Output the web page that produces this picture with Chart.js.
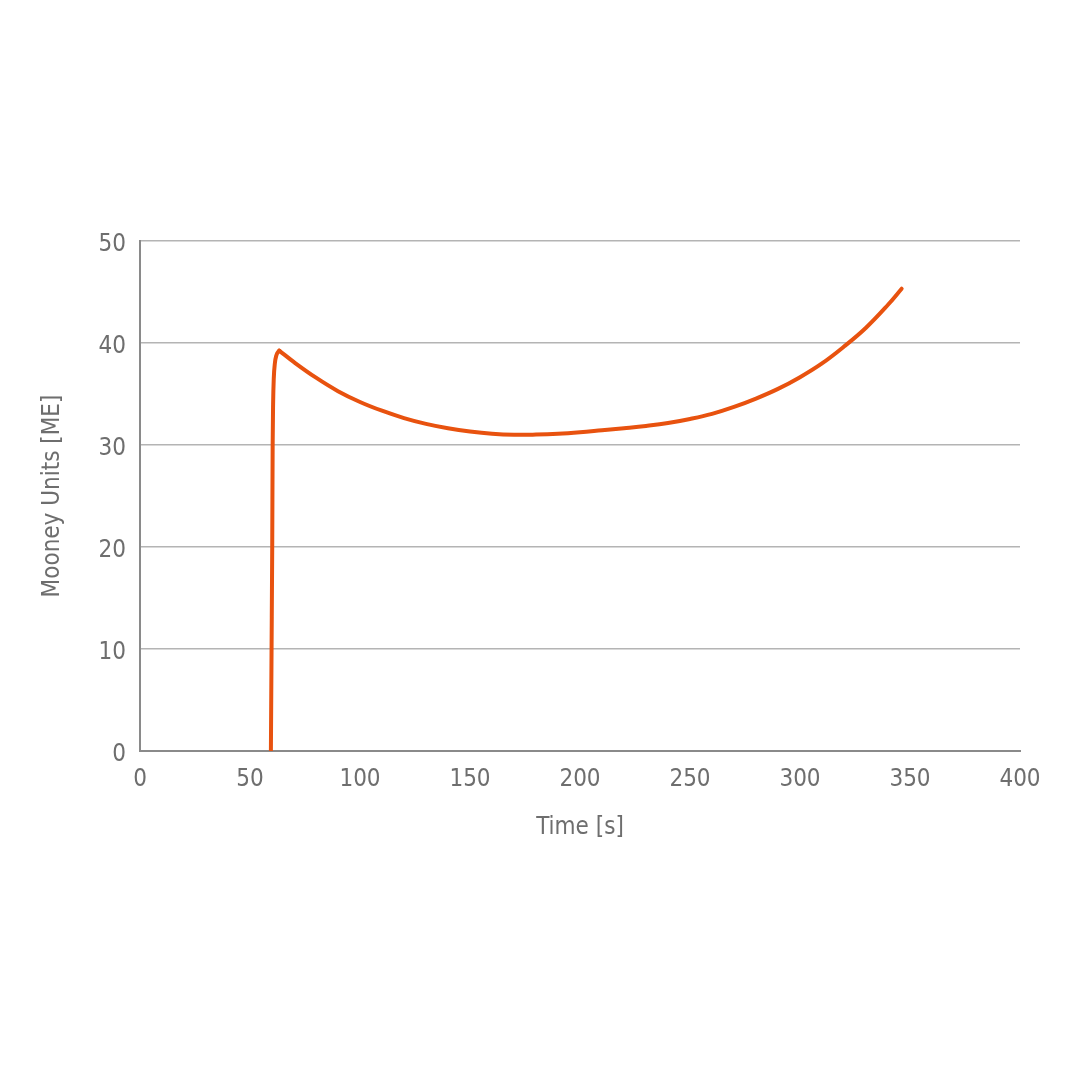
<!DOCTYPE html>
<html>
<head>
<meta charset="utf-8">
<script src="https://cdn.jsdelivr.net/npm/chart.js@4/dist/chart.umd.min.js"></script>
<style>
  html, body { margin: 0; padding: 0; background: #ffffff; }
  #wrap { width: 1080px; height: 1080px; }
</style>
</head>
<body>
<div id="wrap"><canvas id="c" width="1080" height="1080"></canvas></div>
<script>
// Rise phase (rotor start) up to the peak
const riseTime  = [59.5, 59.8, 60.1, 60.3, 60.5, 60.8, 61.3, 62.0, 63.3];
const riseValue = [0, 10, 20, 30, 34, 36.5, 38.0, 38.8, 39.25];
// Decay and cure phase after the peak
const decayTime  = [63.3, 70, 80, 90, 100, 110, 120, 130, 140, 150, 160, 170, 180, 190, 200, 210, 220, 230, 240, 250, 260, 270, 280, 290, 300, 310, 320, 330, 340, 346.2];
const decayValue = [39.25, 38.12, 36.6, 35.28, 34.22, 33.36, 32.64, 32.07, 31.64, 31.32, 31.1, 31.0, 31.02, 31.1, 31.25, 31.45, 31.65, 31.87, 32.15, 32.55, 33.05, 33.73, 34.55, 35.5, 36.65, 38.0, 39.65, 41.5, 43.75, 45.32];
const xAxisTitle = 'Time [s]';
const yAxisTitle = 'Mooney Units [ME]';

const toPts = (xs, ys) => xs.map((t, i) => ({ x: t, y: ys[i] }));
const FONT = '"DejaVu Sans Condensed", "Liberation Sans", sans-serif';
const TXT = '#6e6e6e';
const LINE = '#E8520F';

const lineStyle = {
  showLine: true,
  borderColor: LINE,
  backgroundColor: LINE,
  borderWidth: 4,
  pointRadius: 0,
  pointHoverRadius: 0,
  borderCapStyle: 'round',
  borderJoinStyle: 'round',
  fill: false
};

new Chart(document.getElementById('c'), {
  type: 'scatter',
  data: {
    datasets: [
      Object.assign({ data: toPts(riseTime, riseValue), cubicInterpolationMode: 'monotone' }, lineStyle),
      Object.assign({ data: toPts(decayTime, decayValue), tension: 0.4 }, lineStyle)
    ]
  },
  options: {
    responsive: false,
    animation: false,
    devicePixelRatio: 1,
    layout: { padding: { left: 34, right: 60, top: 241, bottom: 234 } },
    plugins: { legend: { display: false }, tooltip: { enabled: false } },
    scales: {
      x: {
        type: 'linear',
        min: 0, max: 400,
        afterFit: (s) => { s.height = 95; },
        ticks: { stepSize: 50, padding: 14, color: TXT, font: { family: FONT, size: 24 }, maxRotation: 0 },
        grid: { display: false, drawTicks: false },
        border: { display: true, color: '#8a8a8a', width: 2 },
        title: { display: true, text: xAxisTitle, color: TXT, font: { family: FONT, size: 24 }, padding: 4 }
      },
      y: {
        min: 0, max: 50,
        afterFit: (s) => { s.width = 106; },
        ticks: { stepSize: 10, padding: 14, color: TXT, labelOffset: 4, font: { family: FONT, size: 24 } },
        grid: { color: '#b4b4b4', lineWidth: 1.5, drawTicks: false },
        border: { display: true, color: '#8a8a8a', width: 2 },
        title: { display: true, text: yAxisTitle, color: TXT, font: { family: FONT, size: 24 }, padding: 4 }
      }
    }
  }
});
</script>
</body>
</html>
